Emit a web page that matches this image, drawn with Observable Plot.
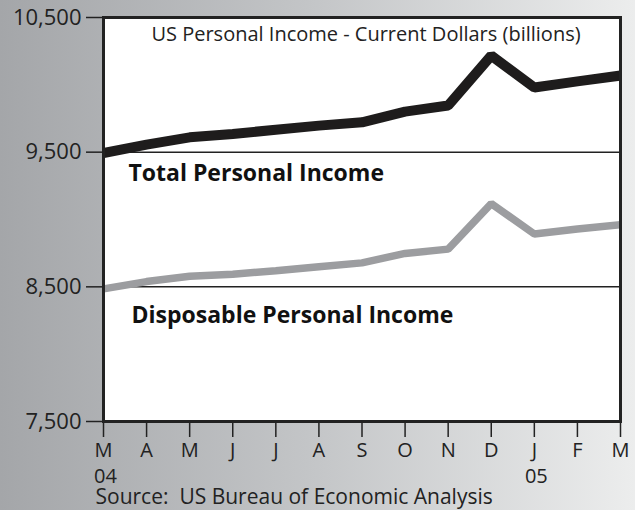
<!DOCTYPE html>
<html>
<head>
<meta charset="utf-8">
<script src="https://cdn.jsdelivr.net/npm/d3@7"></script>
<script src="https://cdn.jsdelivr.net/npm/@observablehq/plot@0.6"></script>
<style>
  html, body { margin: 0; padding: 0; }
  body { width: 635px; height: 510px; overflow: hidden;
         background: linear-gradient(to right, #a4a6a9 0%, #c4c6c8 50%, #eceded 100%); }
  #chart svg { display: block; }
</style>
</head>
<body>
<div id="chart"></div>
<script>
const months = ["M","A","M","J","J","A","S","O","N","D","J","F","M"];
const yearLabels = [{i: 0, label: "04"}, {i: 10, label: "05"}];
const totalIncome = [9493, 9556, 9610, 9635, 9667, 9697, 9722, 9801, 9846, 10217, 9980, 10026, 10069];
const disposableIncome = [8485, 8539, 8579, 8594, 8619, 8649, 8678, 8748, 8780, 9118, 8892, 8929, 8961];
const yTicks = [7500, 8500, 9500, 10500];
const gridValues = [8500, 9500];
const title = "US Personal Income - Current Dollars (billions)";
const source = "Source:  US Bureau of Economic Analysis";
const seriesLabels = [
  {i: 0.58, v: 9340, label: "Total Personal Income"},
  {i: 0.65, v: 8284, label: "Disposable Personal Income"}
];

const idx = months.map((_, i) => i);
const totalData = idx.map(i => ({i, v: totalIncome[i]}));
const dispData = idx.map(i => ({i, v: disposableIncome[i]}));

const font = "'Open Sans', sans-serif";

const chart = Plot.plot({
  width: 635,
  height: 510,
  marginLeft: 103,
  marginRight: 15,
  marginTop: 17,
  marginBottom: 89,
  style: {background: "transparent", fontFamily: font, color: "#222"},
  x: {domain: [0, 12], axis: null},
  y: {domain: [7500, 10500], axis: null},
  marks: [
    Plot.frame({fill: "white"}),
    Plot.ruleY(gridValues, {stroke: "#222", strokeWidth: 1.5}),
    Plot.line(dispData, {x: "i", y: "v", stroke: "#9c9da0", strokeWidth: 7.5,
                strokeLinejoin: "miter", strokeLinecap: "butt", clip: true}),
    Plot.line(totalData, {x: "i", y: "v", stroke: "#1e1c1c", strokeWidth: 10,
                strokeLinejoin: "miter", strokeLinecap: "butt", clip: true}),
    Plot.frame({stroke: "#222", strokeWidth: 3}),
    Plot.axisY({ticks: yTicks, tickFormat: d3.format(","), tickSize: 17, tickPadding: 5, label: null,
                fontSize: 22, stroke: "#222", strokeWidth: 1.5, fill: "#222"}),
    Plot.axisX({ticks: idx, tickFormat: i => months[i], tickSize: 16, tickPadding: 5, label: null,
                fontSize: 20, stroke: "#222", strokeWidth: 1.5, fill: "#222"}),
    Plot.text(yearLabels, {x: "i", text: "label", frameAnchor: "bottom", lineAnchor: "middle", dy: 55,
                dx: 2, fontSize: 20, fill: "#222"}),
    Plot.text([source], {frameAnchor: "bottom-left", lineAnchor: "middle", dx: -8, dy: 76, textAnchor: "start",
                fontSize: 21, fill: "#222"}),
    Plot.text([title], {frameAnchor: "top", lineAnchor: "middle", dx: 4, dy: 17, fontSize: 20, fill: "#222"}),
    Plot.text(seriesLabels, {x: "i", y: "v", text: "label", textAnchor: "start",
                fontSize: 23, fontWeight: "bold", fill: "#111"})
  ]
});
document.getElementById("chart").appendChild(chart);
</script>
</body>
</html>
